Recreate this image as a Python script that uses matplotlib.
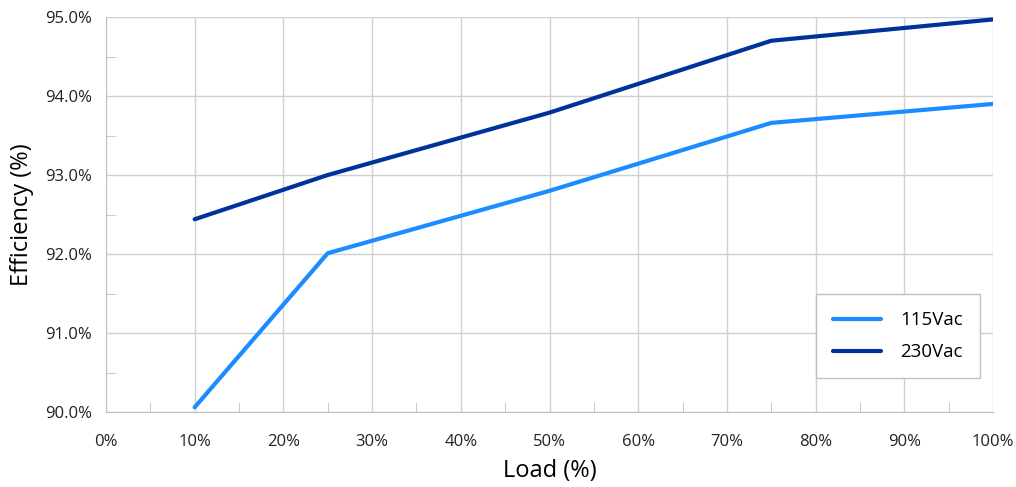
import matplotlib
matplotlib.use("Agg")
import matplotlib.pyplot as plt
from matplotlib.ticker import MultipleLocator, FuncFormatter

plt.rcParams['font.family'] = ['Open Sans', 'DejaVu Sans']

load = [10, 25, 50, 75, 100]
eff_115 = [90.06, 92.01, 92.80, 93.66, 93.90]
eff_230 = [92.44, 93.00, 93.79, 94.70, 94.97]

fig = plt.figure(figsize=(10.16, 4.87), dpi=100)
ax = fig.add_axes([0.1043, 0.154, 0.8731, 0.811])

ax.plot(load, eff_115, color='#1a8cff', lw=3, label='115Vac', solid_capstyle='round')
ax.plot(load, eff_230, color='#003399', lw=3, label='230Vac', solid_capstyle='round')

ax.set_xlim(0, 100)
ax.set_ylim(90, 95)
ax.xaxis.set_major_locator(MultipleLocator(10))
ax.xaxis.set_minor_locator(MultipleLocator(5))
ax.yaxis.set_major_locator(MultipleLocator(1))
ax.yaxis.set_minor_locator(MultipleLocator(0.5))
ax.xaxis.set_major_formatter(FuncFormatter(lambda v, p: '%d%%' % v))
ax.yaxis.set_major_formatter(FuncFormatter(lambda v, p: '%.1f%%' % v))

ax.grid(True, which='major', color='#d0d0d0', lw=1)
ax.set_axisbelow(True)
for s in ['top', 'right']:
    ax.spines[s].set_visible(False)
for s in ['left', 'bottom']:
    ax.spines[s].set_color('#c0c0c0')
ax.tick_params(which='major', length=0, labelsize=12, pad=10, colors='#222222')
ax.tick_params(which='minor', direction='in', length=7, color='#c0c0c0')
ax.tick_params(axis='x', pad=16)

ax.set_xlabel('Load (%)', fontsize=17, labelpad=6)
ax.set_ylabel('Efficiency (%)', fontsize=17, labelpad=8)

leg = ax.legend(loc='lower right', bbox_to_anchor=(0.985, 0.086), borderaxespad=0,
                fontsize=13.5, fancybox=False, framealpha=1, edgecolor='#c0c0c0',
                handlelength=2.6, borderpad=0.9, labelspacing=0.75, handletextpad=1.0)
leg.get_frame().set_linewidth(1)

fig.savefig('out.png', dpi=100)
